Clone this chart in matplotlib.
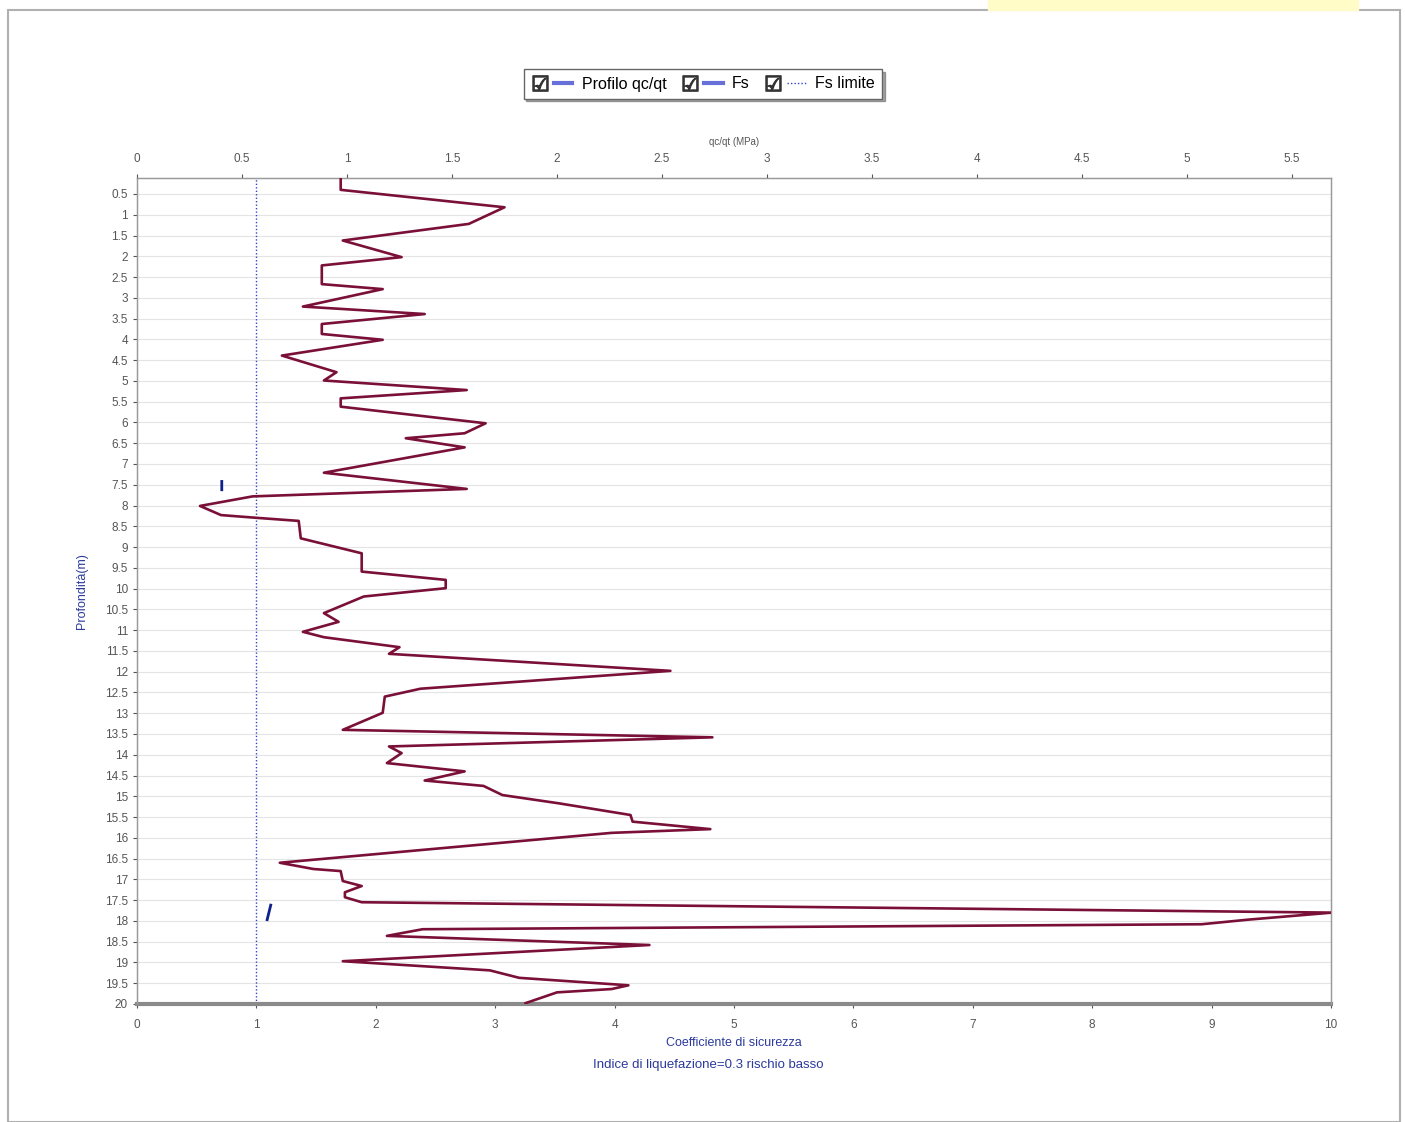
import numpy as np
import matplotlib
matplotlib.use("Agg")
import matplotlib.pyplot as plt
from matplotlib.lines import Line2D
from matplotlib.patches import Rectangle
from matplotlib.legend_handler import HandlerTuple

plt.rcParams['font.family'] = ['Liberation Sans', 'DejaVu Sans']

# profilo qc/qt (MPa) vs profondita (m)
depth_qc = [0.12, 0.40, 0.82, 1.22, 1.62, 2.02, 2.22, 2.67, 2.79, 3.21, 3.39, 3.63, 3.87,
            4.01, 4.39, 4.79, 4.99, 5.22, 5.42, 5.62, 6.02, 6.26, 6.38, 6.60, 7.21, 7.60,
            7.78, 8.01, 8.23, 8.30, 8.37, 8.79, 9.15, 9.59, 9.79, 9.99, 10.19, 10.59, 10.80,
            11.04, 11.17, 11.41, 11.57, 11.98, 12.41, 12.60, 12.99, 13.40, 13.58, 13.80,
            13.96, 14.20, 14.40, 14.62, 14.75, 14.97, 15.17, 15.45, 15.61, 15.79, 15.88,
            16.60, 16.75, 16.80, 17.04, 17.16, 17.31, 17.43, 17.55, 17.80, 17.97, 18.08,
            18.20, 18.36, 18.58, 18.97, 19.19, 19.37, 19.55, 19.64, 19.72, 19.98]
qc_qt = [0.97, 0.97, 1.75, 1.58, 0.98, 1.26, 0.88, 0.88, 1.17, 0.79, 1.37, 0.88, 0.88,
         1.17, 0.69, 0.95, 0.89, 1.57, 0.97, 0.97, 1.66, 1.56, 1.28, 1.56, 0.89, 1.57,
         0.55, 0.30, 0.40, 0.58, 0.77, 0.78, 1.07, 1.07, 1.47, 1.47, 1.08, 0.89, 0.96,
         0.79, 0.89, 1.25, 1.20, 2.54, 1.35, 1.18, 1.17, 0.98, 2.74, 1.20,
         1.26, 1.19, 1.56, 1.37, 1.65, 1.74, 2.01, 2.35, 2.36, 2.73, 2.26,
         0.68, 0.84, 0.97, 0.98, 1.07, 0.99, 0.99, 1.07, 5.69, 5.29, 5.07,
         1.36, 1.19, 2.44, 0.98, 1.68, 1.82, 2.34, 2.26, 2.00, 1.85]

# coefficiente di sicurezza
fs_depth = [7.42, 7.62, np.nan, 17.62, 17.97]
fs = [0.71, 0.71, np.nan, 1.12, 1.09]
fs_limite = 1.0

y_ticks = np.arange(0.5, 20.01, 0.5)
top_ticks = np.arange(0, 5.51, 0.5)
bottom_ticks = np.arange(0, 11, 1)

blue = '#2b3a9c'
tick_col = '#555555'

fig = plt.figure(figsize=(14.05, 11.22), dpi=100)

# outer frame and yellow band
fig.patches.append(Rectangle((8 / 1405, 0), 1392 / 1405, 1 - 10 / 1122, transform=fig.transFigure,
                             fill=False, edgecolor='#b0b0b0', lw=1.5, zorder=0))
fig.patches.append(Rectangle((988 / 1405, 1 - 10 / 1122), 370 / 1405, 10 / 1122,
                             transform=fig.transFigure, color='#fffcc8', zorder=0))

ax = fig.add_axes([137 / 1405, 1 - 1004 / 1122, 1194 / 1405, 826 / 1122])
ax2 = ax.twiny()

ax.set_xlim(0, 10)
ax.set_ylim(20, 0.115)
ax2.set_xlim(0, 1194 / 210)

for d in y_ticks:
    ax.axhline(d, color='#e4e4e4', lw=0.8, zorder=0)

ax.axvline(fs_limite, color='#3344cc', lw=1.0, ls=(0, (1, 1.5)), zorder=2)
fs_line, = ax.plot(fs, fs_depth, color='#10208a', lw=2, zorder=3)
prof_line, = ax2.plot(qc_qt, depth_qc, color='#7a1038', lw=1.9, zorder=4)

ax.set_yticks(y_ticks)
ax.set_yticklabels([f'{v:g}' for v in y_ticks])
ax.set_xticks(bottom_ticks)
ax.set_xticklabels([f'{v:g}' for v in bottom_ticks])
ax2.set_xticks(top_ticks)
ax2.set_xticklabels([f'{v:g}' for v in top_ticks])

for a in (ax, ax2):
    a.tick_params(labelsize=8.5, colors=tick_col, length=3, width=0.8, direction='out')
    for s in a.spines.values():
        s.set_color('#9a9a9a')
        s.set_linewidth(0.9)
ax.spines['bottom'].set_linewidth(3)
ax.spines['bottom'].set_color('#8a8a8a')
ax2.spines['bottom'].set_visible(False)
ax.tick_params(axis='x', pad=8)
ax2.tick_params(axis='x', pad=6)

ax2.set_xlabel('qc/qt (MPa)', fontsize=7, color=tick_col, labelpad=6)
ax.set_ylabel('Profondità(m)', fontsize=9, color=blue, labelpad=12)
ax.set_xlabel('Coefficiente di sicurezza', fontsize=9, color=blue, labelpad=4)
fig.text(708 / 1405, 1 - 1065 / 1122, 'Indice di liquefazione=0.3 rischio basso',
         fontsize=9.5, color=blue, ha='center', va='center')

chk = Line2D([], [], ls='none', marker='$\u2611$', markersize=11, color='#333333')
leg_fs_lim = Line2D([], [], color='#3344cc', lw=1.0, ls=(0, (1, 1.5)))
leg_fs = Line2D([], [], color='#6670d8', lw=3)
leg_prof = Line2D([], [], color='#6670d8', lw=3)
fig.legend([(chk, leg_prof), (chk, leg_fs), (chk, leg_fs_lim)],
           ['Profilo qc/qt', 'Fs', 'Fs limite'],
           handler_map={tuple: HandlerTuple(ndivide=None, pad=0.3)},
           loc='center', bbox_to_anchor=(703 / 1405, 1 - 84 / 1122), ncol=3,
           fontsize=11.5, frameon=True, fancybox=False, shadow=True,
           edgecolor='#666666', handlelength=2.6, handletextpad=0.6,
           columnspacing=0.9, borderpad=0.45)

fig.savefig('out.png', dpi=100)
